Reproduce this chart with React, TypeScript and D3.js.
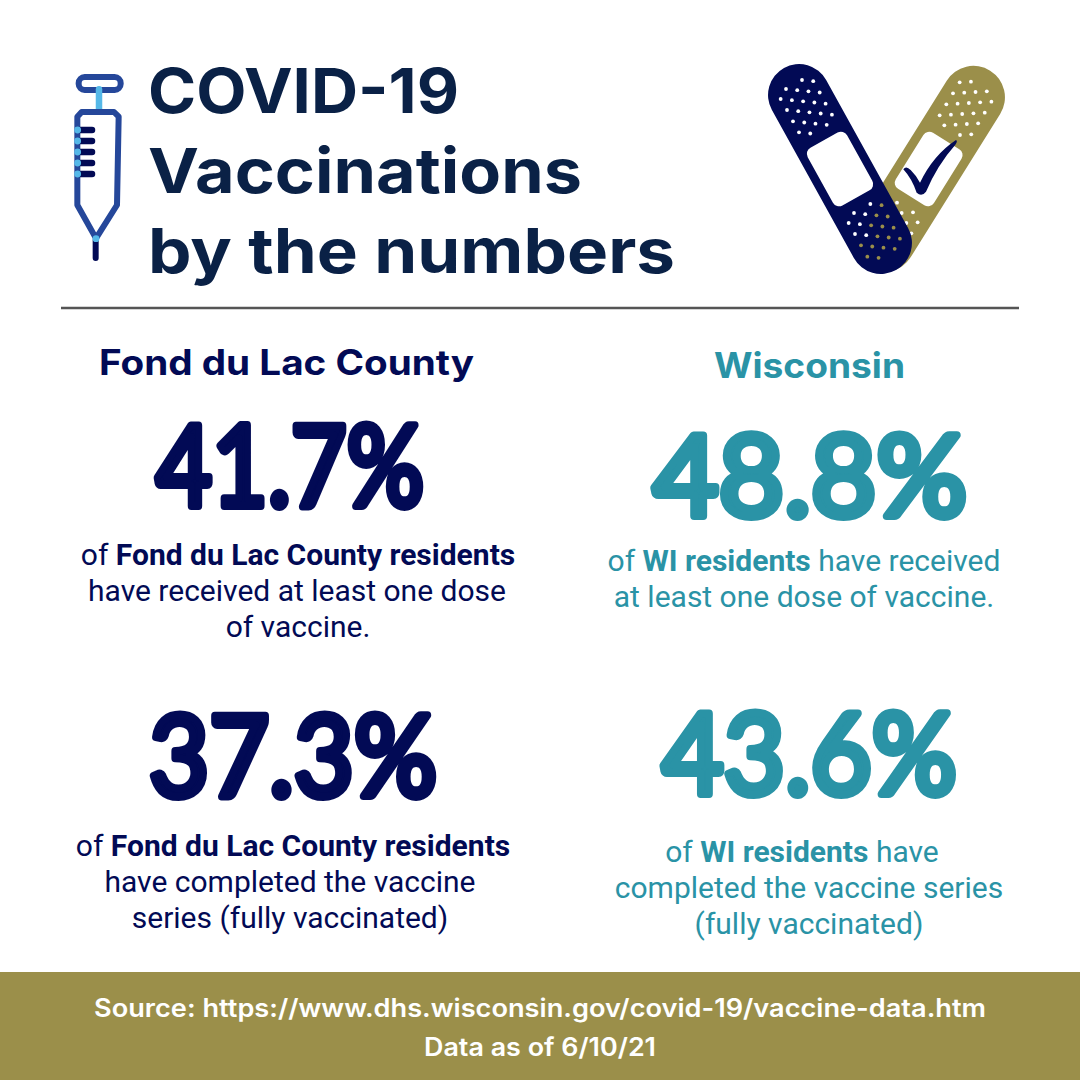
import React from "react";
import * as d3 from "d3";

const SIZE = 1080;
const NAVY = "#020a55";
const TEAL = "#2a93a6";
const OLIVE = "#9b8f4a";
const TITLE = "#0a2146";
const HEAD_FONT = "Inter, 'Open Sans', sans-serif";
const BODY_FONT = "Roboto, sans-serif";
const BIG_FONT = "Lato, 'Noto Sans', sans-serif";

const regions = ["Fond du Lac County", "Wisconsin"];
const firstDose = [41.7, 48.8];
const fullyVaccinated = [37.3, 43.6];
const titleLines = ["COVID-19", "Vaccinations", "by the numbers"];
const sourceLines = [
	"Source: https://www.dhs.wisconsin.gov/covid-19/vaccine-data.htm",
	"Data as of 6/10/21",
];

const fmt = d3.format(".1f");

// [bold?, text] runs, one array per line
type Run = [boolean, string];
const fdlFirst: Run[][] = [
	[[false, "of "], [true, "Fond du Lac County residents"]],
	[[false, "have received at least one dose"]],
	[[false, "of vaccine."]],
];
const wiFirst: Run[][] = [
	[[false, "of "], [true, "WI residents"], [false, " have received"]],
	[[false, "at least one dose of vaccine."]],
];
const fdlFull: Run[][] = [
	[[false, "of "], [true, "Fond du Lac County residents"]],
	[[false, "have completed the vaccine"]],
	[[false, "series (fully vaccinated)"]],
];
const wiFull: Run[][] = [
	[[false, "of "], [true, "WI residents"], [false, " have"]],
	[[false, "completed the vaccine series"]],
	[[false, "(fully vaccinated)"]],
];

// layout of the four blocks
const statBlocks = [
	{ value: firstDose[0], color: NAVY, x0: 152, x1: 428, base: 506, lines: fdlFirst, cx: [298, 297, 298], y: 565 },
	{ value: firstDose[1], color: TEAL, x0: 649, x1: 971, base: 516, lines: wiFirst, cx: [804, 804], y: 571 },
	{ value: fullyVaccinated[0], color: NAVY, x0: 145, x1: 441, base: 796, lines: fdlFull, cx: [293, 290, 290], y: 856 },
	{ value: fullyVaccinated[1], color: TEAL, x0: 658, x1: 961, base: 794, lines: wiFull, cx: [802, 809, 809], y: 862 },
];

// bandage dots: [x, y, count, white count] per row, in icon units
const leftTopRows = [
	[156, 90, 2], [108, 117, 4], [92, 147, 5], [111, 180, 5], [129, 214, 4], [147, 247, 2],
];
const leftBottomRows = [
	[361, 462, 2, 1], [312, 489, 4, 2], [296, 519, 5, 2], [315, 552, 5, 2], [333, 586, 4, 0], [352, 620, 2, 0],
];
const rightRows = [
	[629, 97, 2], [609, 130, 4], [589, 163, 5], [569, 196, 5], [583, 226, 4], [630, 255, 2],
];
const rightLowerDots = [
	[441, 458], [455, 489], [489, 487], [469, 519], [503, 517], [484, 550],
];
const syringeTicks = [240, 273, 306, 339, 372];

const bx = d3.scaleLinear().domain([0, 270]).range([750, 840]);
const by = d3.scaleLinear().domain([0, 240]).range([50, 130]);
const sx = d3.scaleLinear().domain([0, 120]).range([50, 90]);
const sy = d3.scaleLinear().domain([0, 230]).range([50, 126.67]);

const bandage = (icx: number, icy: number, angle: number, fill: string, len: number, w: number) => (
	<g transform={`translate(${bx(icx)},${by(icy)}) rotate(${angle})`}>
		<rect x={-w / 2} y={-len / 2} width={w} height={len} rx={w / 2} fill={fill} />
		<rect x={-22.5} y={-33} width={45} height={66} rx={7} fill="#fff" />
	</g>
);

const Syringe = () => {
	const body = d3.line().curve(d3.curveLinear)([
		[sx(82), sy(460)], [sx(82), sy(200)], [sx(95), sy(186)], [sx(192), sy(186)],
		[sx(206), sy(200)], [sx(201), sy(465)], [sx(138), sy(565)], [sx(82), sy(465)],
		[sx(82), sy(460)],
	]) as string;
	return (
		<g>
			<rect x={sx(86)} y={sy(81)} width={42} height={13} rx={6} fill="none" stroke="#25479a" strokeWidth={6} />
			<line x1={sx(147)} x2={sx(147)} y1={sy(118)} y2={sy(180)} stroke="#55b8e8" strokeWidth={6.5} strokeLinecap="round" />
			<path d={body} fill="none" stroke="#25479a" strokeWidth={6} strokeLinejoin="round" />
			{syringeTicks.map((t) => (
				<g key={t}>
					<line x1={sx(88)} x2={sx(126)} y1={sy(t)} y2={sy(t)} stroke={NAVY} strokeWidth={6.5} strokeLinecap="round" />
					<circle cx={sx(83)} cy={sy(t)} r={3.4} fill="#55b8e8" />
				</g>
			))}
			<line x1={sx(137)} x2={sx(137)} y1={sy(570)} y2={sy(624)} stroke={NAVY} strokeWidth={6} strokeLinecap="round" />
			<circle cx={sx(138)} cy={sy(566)} r={3.4} fill="#55b8e8" />
		</g>
	);
};

const Bandages = () => {
	const check = `M${bx(460)},${by(358)} Q${bx(468)},${by(346)} ${bx(482)},${by(360)} Q${bx(500)},${by(378)} ${bx(510)},${by(398)}
		Q${bx(550)},${by(315)} ${bx(618)},${by(270)} Q${bx(624)},${by(274)} ${bx(616)},${by(284)}
		Q${bx(562)},${by(345)} ${bx(528)},${by(425)} Q${bx(515)},${by(442)} ${bx(500)},${by(428)} Q${bx(485)},${by(385)} ${bx(460)},${by(358)} Z`;
	return (
		<g>
			{bandage(536, 357, 32, OLIVE, 232, 63)}
			{rightRows.flatMap(([x, y, n], r) =>
				d3.range(n).map((i) => (
					<circle key={`r${r}${i}`} cx={bx(x + i * 33.8)} cy={by(y - i * 2)} r={1.9} fill="#fff" />
				))
			)}
			{rightLowerDots.map(([x, y], i) => (
				<circle key={`rl${i}`} cx={bx(x)} cy={by(y)} r={1.9} fill="#fff" />
			))}
			<path d={check} fill={NAVY} />
			{bandage(270, 357, -29, NAVY, 231, 62)}
			{leftTopRows.flatMap(([x, y, n], r) =>
				d3.range(n).map((i) => (
					<circle key={`l${r}${i}`} cx={bx(x + i * 33.7)} cy={by(y + i * 3.5)} r={1.9} fill="#fff" />
				))
			)}
			{leftBottomRows.flatMap(([x, y, n, w], r) =>
				d3.range(n).map((i) => (
					<circle key={`b${r}${i}`} cx={bx(x + i * 33.7)} cy={by(y + i * 3.5)} r={1.9} fill={i < w ? "#fff" : OLIVE} />
				))
			)}
		</g>
	);
};

export default function App() {
	return (
		<svg width={SIZE} height={SIZE} style={{ position: "absolute", left: 0, top: 0, background: "#fff" }}>
			<Syringe />
			<Bandages />

			{titleLines.map((t, i) => (
				<text
					key={t}
					x={148}
					y={[113, 193, 273][i]}
					fontFamily={HEAD_FONT}
					fontWeight={700}
					fontSize={62}
					fill={TITLE}
					textLength={[311, 434, 527][i]}
					lengthAdjust="spacingAndGlyphs"
				>
					{t}
				</text>
			))}

			<line x1={61} x2={1019} y1={308} y2={308} stroke="#555" strokeWidth={2.5} />

			<text x={99} y={375} fontFamily={HEAD_FONT} fontWeight={700} fontSize={35} fill={NAVY} textLength={375} lengthAdjust="spacingAndGlyphs">
				{regions[0]}
			</text>
			<text x={714} y={378} fontFamily={HEAD_FONT} fontWeight={700} fontSize={35} fill={TEAL} textLength={191} lengthAdjust="spacingAndGlyphs">
				{regions[1]}
			</text>

			{statBlocks.map((s) => (
				<g key={s.value}>
					<text
						x={s.x0 + 4}
						y={s.base}
						fontFamily={BIG_FONT}
						fontWeight={400}
						fontSize={112}
						fill={s.color}
						stroke={s.color}
						strokeWidth={8}
						strokeLinejoin="round"
						strokeLinecap="round"
						textLength={s.x1 - s.x0 - 8}
						lengthAdjust="spacingAndGlyphs"
					>
						{`${fmt(s.value)}%`}
					</text>
					{s.lines.map((runs, i) => (
						<text
							key={i}
							x={s.cx[i]}
							y={s.y + i * 36}
							textAnchor="middle"
							fontFamily={BODY_FONT}
							fontSize={30}
							fill={s.color}
						>
							{runs.map(([bold, txt], j) => (
								<tspan key={j} fontWeight={bold ? 700 : 400}>{txt}</tspan>
							))}
						</text>
					))}
				</g>
			))}

			<rect x={0} y={972} width={SIZE} height={108} fill={OLIVE} />
			{sourceLines.map((t, i) => (
				<text
					key={t}
					x={540}
					y={[1017, 1056][i]}
					textAnchor="middle"
					fontFamily={HEAD_FONT}
					fontWeight={600}
					fontSize={25}
					fill="#fff"
					textLength={[892, 232][i]}
					lengthAdjust="spacingAndGlyphs"
				>
					{t}
				</text>
			))}
		</svg>
	);
}
